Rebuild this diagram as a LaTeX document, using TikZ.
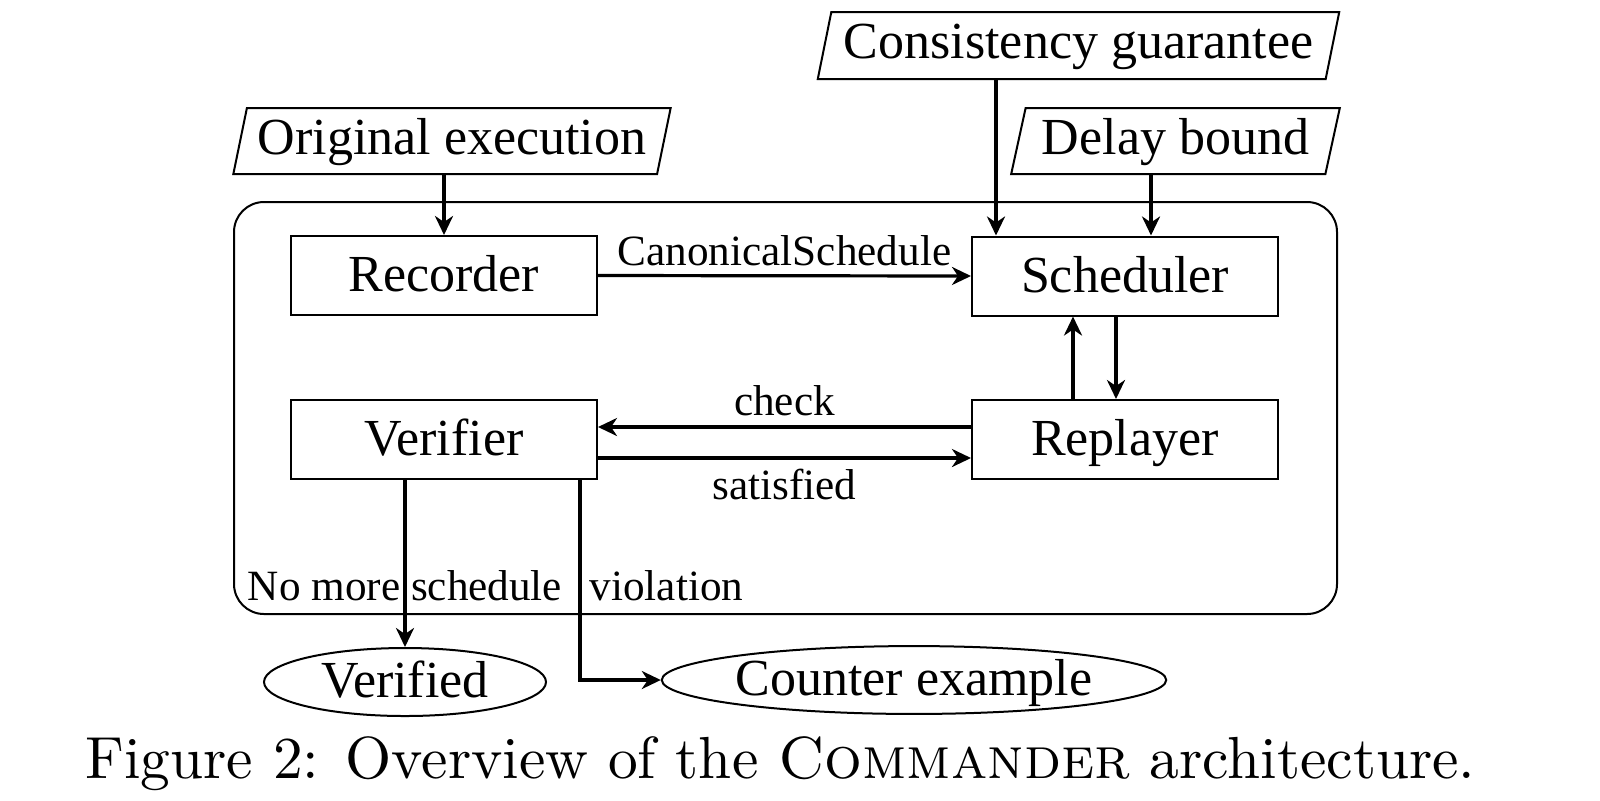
\documentclass[tikz,border=0pt]{standalone}
\usepackage{fontspec}
\newfontfamily\tnr{Liberation Serif}
\newfontfamily\capfont{lmroman10-regular}[Extension=.otf,SmallCapsFont=lmromancaps10-regular]
\usetikzlibrary{shapes.geometric,arrows.meta}
\begin{document}
\begin{tikzpicture}[x=0.5pt,y=-0.5pt,
  box/.style={draw,line width=1pt,rectangle,minimum width=153pt,minimum height=39.5pt,inner sep=0pt,text height=20pt,text depth=4pt,font=\tnr\fontsize{26}{30}\selectfont},
  inbox/.style={draw,line width=1pt,trapezium,trapezium left angle=75,trapezium right angle=105,trapezium stretches=true,inner sep=0pt,text height=18.5pt,text depth=5.5pt,font=\tnr\fontsize{26}{30}\selectfont},
  outc/.style={draw,line width=1pt,ellipse,inner sep=0pt,text height=19.5pt,text depth=4.5pt,font=\tnr\fontsize{26}{30}\selectfont},
  lbl/.style={inner sep=0pt,font=\tnr\fontsize{21.6}{24}\selectfont},
  arr/.style={line width=1.6pt,-{Stealth[length=9.5pt,width=9pt,inset=3pt]}}]
\fill[white] (0,0) rectangle (1600,800);
\useasboundingbox (0,0) rectangle (1600,800);
% frame
\node[draw,line width=1pt,rounded corners=15pt,minimum width=551.5pt,minimum height=206pt,inner sep=0pt] (frame) at (785.5,408) {};
% inputs
\node[inbox,minimum width=261.5pt,minimum height=33.5pt] (cons) at (1078.5,45.5) {Consistency guarantee};
\node[inbox,minimum width=164.5pt,minimum height=33pt] (delay) at (1175.5,141) {Delay bound};
\node[inbox,minimum width=219pt,minimum height=33pt] (orig) at (452,141) {Original execution};
% boxes
\node[box] (rec) at (444,275.5) {Recorder};
\node[box] (sch) at (1125,276) {Scheduler};
\node[box] (ver) at (444,439.5) {Verifier};
\node[box] (rep) at (1125,439.5) {Replayer};
% outputs
\node[outc,minimum width=141pt,minimum height=34pt] (ved) at (405,682) {Verified};
\node[outc,minimum width=250pt,minimum height=33pt] (ce) at (914,680) {Counter example};
% caption
\node[anchor=base,inner sep=0pt,font=\capfont\fontsize{29.7}{32}\selectfont] (cap) at (780.5,778) {Figure 2: Overview of the \textsc{Commander} architecture.};
% helper coordinates
\coordinate (cx) at (996,0);
\coordinate (dx) at (1151,0);
\coordinate (upx) at (1073,0);
\coordinate (dnx) at (1116,0);
\coordinate (vx) at (580,0);
\coordinate (ckl) at (0,427);
\coordinate (stl) at (0,458);
% connectors
\draw[arr] (orig.south -| rec.north) -- (rec.north);
\draw[arr] (cons.south -| cx) -- (sch.north -| cx);
\draw[arr] (delay.south -| dx) -- (sch.north -| dx);
\draw[arr] (rec.east) -- node[lbl,midway,above=4pt] {CanonicalSchedule} (sch.west);
\draw[arr] (rep.north -| upx) -- (sch.south -| upx);
\draw[arr] (sch.south -| dnx) -- (rep.north -| dnx);
\draw[arr] (rep.west |- ckl) -- node[lbl,midway,above=4.5pt] {check} (ver.east |- ckl);
\draw[arr] (ver.east |- stl) -- node[lbl,midway,below=4.5pt] {satisfied} (rep.west |- stl);
\draw[arr] (ver.south -| ved.north) -- node[lbl,pos=0.722,anchor=base] {No more schedule} (ved.north);
\draw[arr] (ver.south -| vx) |- node[lbl,pos=0.302,anchor=base west,xshift=4pt] {violation} (ce.west);
\end{tikzpicture}
\end{document}
